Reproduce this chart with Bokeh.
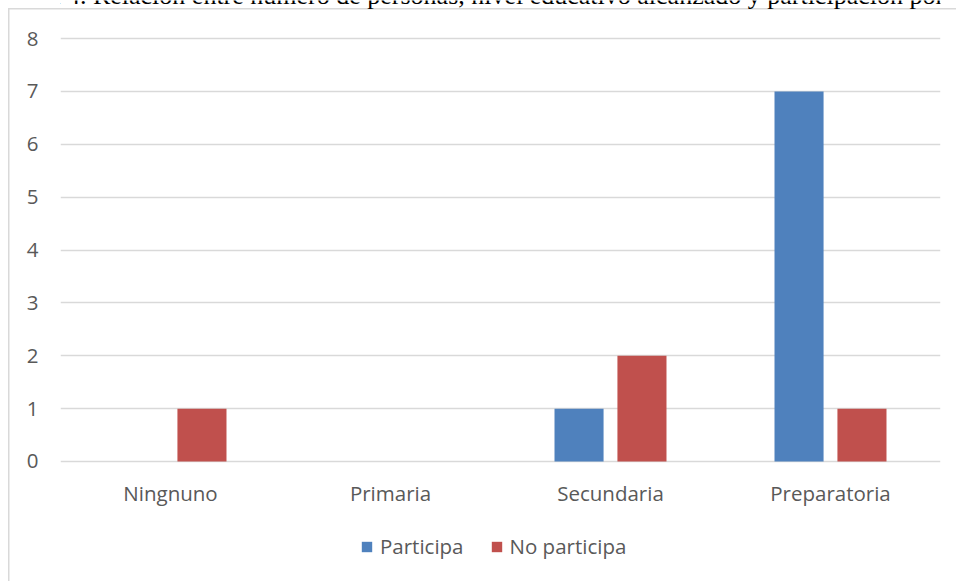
from bokeh.plotting import figure
from bokeh.models import (ColumnDataSource, Range1d, Legend, LegendItem, Label, FixedTicker,
                          GlobalInlineStyleSheet)
from bokeh.transform import dodge
from bokeh.embed import file_html
from bokeh.resources import INLINE

categories = ["Ningnuno", "Primaria", "Secundaria", "Preparatoria"]
participa = [0, 0, 1, 7]
no_participa = [1, 0, 2, 1]
y_ticks = [0, 1, 2, 3, 4, 5, 6, 7, 8]
series_names = ["Participa", "No participa"]
series_colors = ["#4F81BD", "#C0504D"]
title_text = "Gráfica 4. Relación entre número de personas, nivel educativo alcanzado y participación por"

src = ColumnDataSource(dict(cat=categories, p=participa, n=no_participa))

FONT = "Open Sans"
TXT = "#595959"

# frame spans canvas y 0..580; value 0 sits at y=461, value 8 at y=38
p = figure(x_range=categories, y_range=Range1d(-2.2506, 8.7187),
           width=956, height=640, output_backend="svg", toolbar_location=None,
           min_border_left=60, min_border_right=16, min_border_top=0, min_border_bottom=60)
p.stylesheets = [GlobalInlineStyleSheet(css="html, body { margin: 0; padding: 0; overflow: hidden; }")]
p.styles = {"background": "linear-gradient(#D9D9D9, #D9D9D9) 8px 8px / 1.5px 100% no-repeat, "
                          "linear-gradient(#D9D9D9, #D9D9D9) 8px 8px / 100% 1.5px no-repeat, #ffffff"}
p.outline_line_color = None
p.background_fill_alpha = 0
p.border_fill_alpha = 0

r1 = p.vbar(x=dodge("cat", -0.143, range=p.x_range), top="p", width=0.223, source=src,
            fill_color=series_colors[0], line_color=None)
r2 = p.vbar(x=dodge("cat", 0.143, range=p.x_range), top="n", width=0.223, source=src,
            fill_color=series_colors[1], line_color=None)

p.xgrid.grid_line_color = None
p.ygrid.grid_line_color = "#D9D9D9"
p.ygrid.grid_line_width = 1.3
p.yaxis.ticker = FixedTicker(ticks=y_ticks)
p.xaxis.fixed_location = 0

for ax in (p.xaxis[0], p.yaxis[0]):
    ax.axis_line_color = None
    ax.major_tick_line_color = None
    ax.minor_tick_line_color = None
    ax.major_label_text_font = FONT
    ax.major_label_text_font_size = "20.5px"
    ax.major_label_text_color = TXT
p.yaxis.major_label_standoff = 16
p.xaxis.major_label_standoff = 12

legend = Legend(items=[LegendItem(label=series_names[0], renderers=[r1]),
                       LegendItem(label=series_names[1], renderers=[r2])],
                orientation="horizontal", location=(300, 20))
legend.glyph_width = 13
legend.glyph_height = 13
legend.label_standoff = 7
legend.spacing = 26
legend.label_text_font = FONT
legend.label_text_font_size = "20.5px"
legend.label_text_color = TXT
legend.border_line_color = None
legend.background_fill_alpha = 0
legend.margin = 0
legend.padding = 0
p.add_layout(legend)

title = Label(x=-18, y=-5, x_units="canvas", y_units="canvas", text=title_text,
              text_font="Liberation Serif", text_font_size="26px", text_color="black",
              text_baseline="alphabetic", text_align="left")
p.add_layout(title)

open("out.html", "w").write(file_html(p, INLINE))
